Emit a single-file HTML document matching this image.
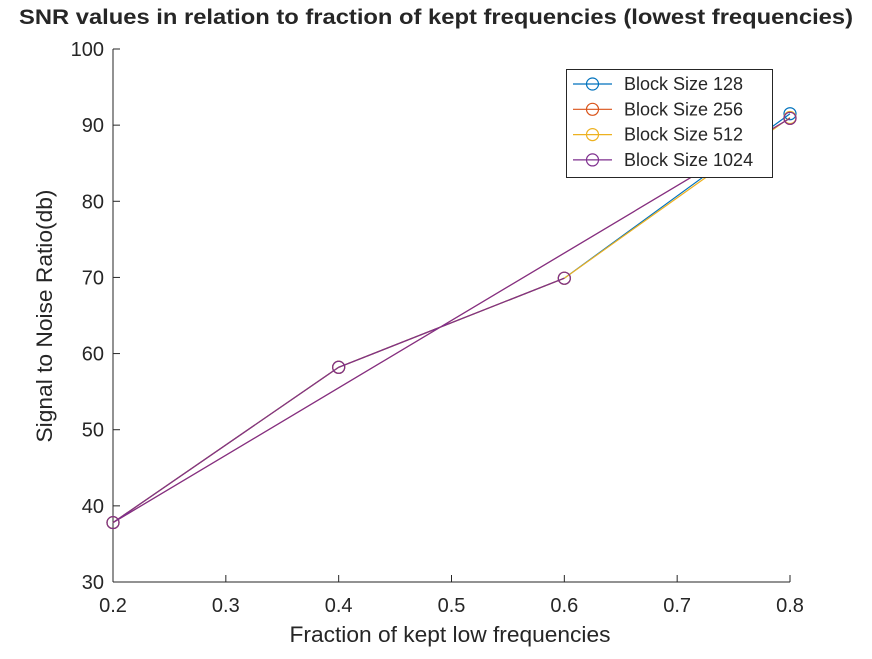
<!DOCTYPE html>
<html><head><meta charset="utf-8"><style>
body{margin:0;background:#fff;}
text{font-family:"Liberation Sans",sans-serif;fill:#262626;}
</style></head><body>
<svg id="chart" width="872" height="654">
<text x="436" y="24" text-anchor="middle" font-size="21" font-weight="bold" fill="#000" textLength="834" lengthAdjust="spacingAndGlyphs">SNR values in relation to fraction of kept frequencies (lowest frequencies)</text>
<g id="axes"></g><g id="series"></g>
<text x="450" y="642" text-anchor="middle" font-size="22" textLength="321" lengthAdjust="spacingAndGlyphs">Fraction of kept low frequencies</text>
<text transform="translate(52,316) rotate(-90)" text-anchor="middle" font-size="22" textLength="253" lengthAdjust="spacingAndGlyphs">Signal to Noise Ratio(db)</text>
<g id="legend"></g>
</svg>
<script>
const xTicks=[0.2,0.3,0.4,0.5,0.6,0.7,0.8];
const yTicks=[30,40,50,60,70,80,90,100];
const seriesNames=["Block Size 128","Block Size 256","Block Size 512","Block Size 1024"];
const colors=["#0072BD","#D95319","#EDB120","#7E2F8E"];
const x128=[0.2,0.4,0.6,0.8], y128=[37.8,58.2,69.9,91.5];
const x256=[0.8,0.2,0.4,0.6], y256=[90.9,37.8,58.2,69.9];
const x512=[0.2,0.4,0.6,0.8], y512=[37.8,58.2,69.9,91.0];
const x1024=[0.8,0.2,0.4,0.6], y1024=[90.9,37.8,58.2,69.9];
const NS="http://www.w3.org/2000/svg";
const X0=113,X1=790,Y0=582,Y1=49;
const sx=v=>X0+(v-0.2)/(0.6)*(X1-X0);
const sy=v=>Y0-(v-30)/70*(Y0-Y1);
function mk(tag,attrs,parent){const e=document.createElementNS(NS,tag);for(const k in attrs)e.setAttribute(k,attrs[k]);parent.appendChild(e);return e;}
const ax=document.getElementById('axes');
let l=mk('line',{x1:X0,y1:Y0,x2:X1,y2:Y0,stroke:'#262626'},ax);


l=mk('line',{x1:X0,y1:Y0,x2:X0,y2:Y1,stroke:'#262626'},ax);


xTicks.forEach(v=>{const x=sx(v);mk('line',{x1:x,y1:Y0,x2:x,y2:Y0-7,stroke:'#262626'},ax);
const t=mk('text',{x:x,y:Y0+30,'text-anchor':'middle','font-size':20},ax);t.textContent=v.toFixed(1);

});
yTicks.forEach(v=>{const y=sy(v);mk('line',{x1:X0,y1:y,x2:X0+7,y2:y,stroke:'#262626'},ax);
const t=mk('text',{x:X0-9,y:y+7,'text-anchor':'end','font-size':20},ax);t.textContent=v;

});
const sg=document.getElementById('series');
[[x128,y128],[x256,y256],[x512,y512],[x1024,y1024]].forEach((d,i)=>{
const g=mk('g',{},sg);


mk('polyline',{points:d[0].map((v,j)=>sx(v)+','+sy(d[1][j])).join(' '),fill:'none',stroke:colors[i],'stroke-width':1.2},g);
d[0].forEach((v,j)=>{const c=mk('circle',{cx:sx(v),cy:sy(d[1][j]),r:6,fill:'none',stroke:colors[i],'stroke-width':1.2},g);

});
});
const lg=document.getElementById('legend');


mk('rect',{x:566.5,y:69.5,width:206,height:108,fill:'#fff',stroke:'#262626'},lg);
seriesNames.forEach((n,i)=>{const y=84+i*25.3;
const g=mk('g',{},lg);


mk('line',{x1:573,y1:y,x2:612,y2:y,stroke:colors[i],'stroke-width':1.2},g);
mk('circle',{cx:592.5,cy:y,r:6,fill:'none',stroke:colors[i],'stroke-width':1.2},g);
const t=mk('text',{x:624,y:y+6,'font-size':18,fill:'#000'},g);t.textContent=n;});
</script>
</body></html>
